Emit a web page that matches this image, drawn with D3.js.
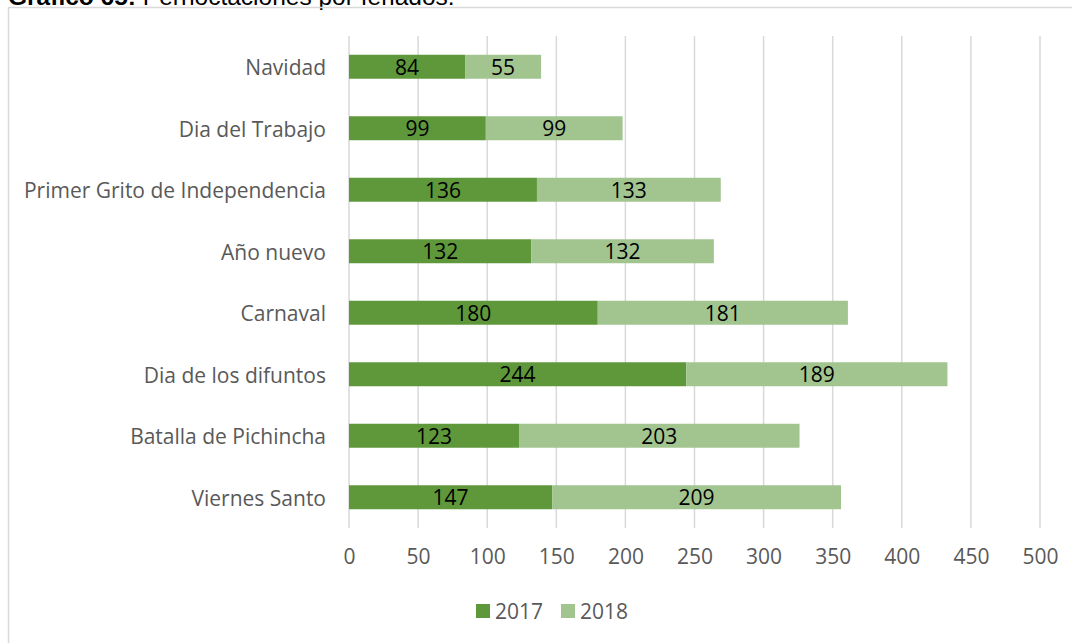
<!DOCTYPE html>
<html>
<head>
<meta charset="utf-8">
<script src="https://cdn.jsdelivr.net/npm/d3@7"></script>
<style>
  body { margin: 0; background: #fff; }
  text { font-family: "Open Sans", sans-serif; }
</style>
</head>
<body>
<div id="chart"></div>
<script>

// data
var categories = ['Navidad', 'Dia del Trabajo', 'Primer Grito de Independencia', 'Año nuevo',
  'Carnaval', 'Dia de los difuntos', 'Batalla de Pichincha', 'Viernes Santo'];
var values2017 = [84, 99, 136, 132, 180, 244, 123, 147];
var values2018 = [55, 99, 133, 132, 181, 189, 203, 209];
var series = ['2017', '2018'];
var ticks = [0, 50, 100, 150, 200, 250, 300, 350, 400, 450, 500];

var chart_width  = 1072;
var chart_height = 643;
var colors = ['#5f983b', '#a2c590'];
var font_size = '21px';

var svg = d3.select('#chart')
  .append('svg')
  .attr('width', chart_width)
  .attr('height', chart_height);

// title, cut by the top edge like in the source
var title = svg.append('text')
  .attr('x', 8)
  .attr('y', 5)
  .style('font-family', '"Liberation Sans", Arial, sans-serif')
  .style('font-size', '24.5px')
  .attr('fill', '#000');
title.append('tspan').style('font-weight', 'bold').text('Gráfico 65:');
title.append('tspan').text(' Pernoctaciones por feriados.');

// frame
svg.append('rect')
  .attr('x', 8.5)
  .attr('y', 7.5)
  .attr('width', 1200)
  .attr('height', 800)
  .attr('fill', 'none')
  .attr('stroke', '#d9d9d9')
  .attr('stroke-width', 1.5);

var x_scale = d3.scaleLinear()
  .domain([0, 500])
  .range([349, 1040]);

var y_scale = d3.scaleBand()
  .domain(categories)
  .range([36, 528])
  .paddingInner(0.61)
  .paddingOuter(0.305);

// gridlines
svg.append('g')
  .selectAll('line')
  .data(ticks)
  .enter()
  .append('line')
  .attr('x1', function(d){ return x_scale(d); })
  .attr('x2', function(d){ return x_scale(d); })
  .attr('y1', 36)
  .attr('y2', 528)
  .attr('stroke', '#d9d9d9')
  .attr('stroke-width', 1.5);

var x_axis = d3.axisBottom(x_scale)
  .tickValues(ticks)
  .tickSize(0)
  .tickPadding(0);

svg.append('g')
  .attr('class', 'x-axis')
  .attr('transform', 'translate(0,' + 549 + ')')
  .call(x_axis)
  .call(function(g){ g.select('.domain').remove(); })
  .selectAll('text')
  .attr('dy', '0.71em')
  .style('font-family', '"Open Sans", sans-serif')
  .style('font-size', font_size)
  .attr('fill', '#595959');

var y_axis = d3.axisLeft(y_scale)
  .tickSize(0)
  .tickPadding(23);

svg.append('g')
  .attr('class', 'y-axis')
  .attr('transform', 'translate(349,0)')
  .call(y_axis)
  .call(function(g){ g.select('.domain').remove(); })
  .selectAll('text')
  .attr('dy', '0.4em')
  .style('font-family', '"Open Sans", sans-serif')
  .style('font-size', font_size)
  .attr('fill', '#595959');

// stacked bars
var rows = categories.map(function(c, i){
  return { cat: c, a: values2017[i], b: values2018[i] };
});

var segs = [];
rows.forEach(function(r){
  segs.push({ cat: r.cat, x0: 0, x1: r.a, v: r.a, s: 0 });
  segs.push({ cat: r.cat, x0: r.a, x1: r.a + r.b, v: r.b, s: 1 });
});

svg.append('g')
  .selectAll('rect')
  .data(segs)
  .enter()
  .append('rect')
  .attr('x', function(d){ return x_scale(d.x0); })
  .attr('y', function(d){ return y_scale(d.cat); })
  .attr('width', function(d){ return x_scale(d.x1) - x_scale(d.x0); })
  .attr('height', y_scale.bandwidth())
  .attr('fill', function(d){ return colors[d.s]; });

svg.append('g')
  .selectAll('text')
  .data(segs)
  .enter()
  .append('text')
  .attr('x', function(d){ return (x_scale(d.x0) + x_scale(d.x1)) / 2; })
  .attr('y', function(d){ return y_scale(d.cat) + y_scale.bandwidth() / 2; })
  .attr('dy', '0.38em')
  .attr('text-anchor', 'middle')
  .style('font-size', font_size)
  .attr('fill', '#000')
  .text(function(d){ return d.v; });

// legend
var legend = svg.append('g')
  .selectAll('g')
  .data(series)
  .enter()
  .append('g')
  .attr('transform', function(d, i){ return 'translate(' + (476 + i * 85) + ',604)'; });

legend.append('rect')
  .attr('width', 14)
  .attr('height', 14)
  .attr('fill', function(d, i){ return colors[i]; });

legend.append('text')
  .attr('x', 19)
  .attr('y', 7)
  .attr('dy', '0.38em')
  .style('font-size', font_size)
  .attr('fill', '#595959')
  .text(function(d){ return d; });

</script>
</body>
</html>
